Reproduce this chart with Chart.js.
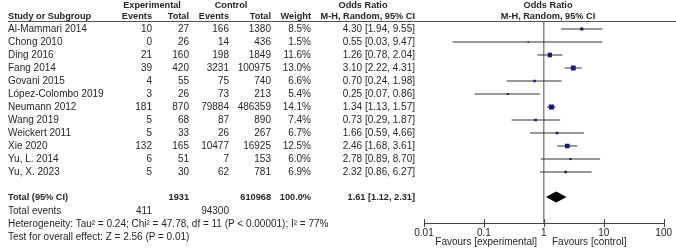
<!DOCTYPE html>
<html>
<head>
<meta charset="utf-8">
<script src="https://cdn.jsdelivr.net/npm/chart.js@4/dist/chart.umd.min.js"></script>
<style>
  html, body { margin: 0; padding: 0; background: #fff; }
  #wrap { position: relative; width: 676px; height: 249px; overflow: hidden; background: #fff;
          font-family: "Liberation Sans", Arial, sans-serif; font-size: 10px; color: #262626; }
  #wrap canvas { position: absolute; left: 0; top: 0; }
  .t { position: absolute; white-space: nowrap; line-height: 12px; height: 12px; }
  .b { font-weight: bold; font-size: 9.2px; }
  #rule { position: absolute; left: 8px; right: 0; top: 21px; height: 0; border-top: 1px solid #555; }
</style>
</head>
<body>
<div id="wrap">
  <canvas id="c" width="676" height="249"></canvas>
  <div id="rule"></div>
</div>
<script>
// ---------- data ----------
const studies = ['Al-Mammari 2014','Chong 2010','Ding 2016','Fang 2014','Govani 2015','López-Colombo 2019',
                 'Neumann 2012','Wang 2019','Weickert 2011','Xie 2020','Yu, L. 2014','Yu, X. 2023'];
const expEvents  = [10, 0, 21, 39, 4, 3, 181, 5, 5, 132, 6, 5];
const expTotal   = [27, 26, 160, 420, 55, 26, 870, 68, 33, 165, 51, 30];
const ctrlEvents = [166, 14, 198, 3231, 75, 73, 79884, 87, 26, 10477, 7, 62];
const ctrlTotal  = [1380, 436, 1849, 100975, 740, 213, 486359, 890, 267, 16925, 153, 781];
const weights    = [8.5, 1.5, 11.6, 13.0, 6.6, 5.4, 14.1, 7.4, 6.7, 12.5, 6.0, 6.9];
const orEst      = [4.30, 0.55, 1.26, 3.10, 0.70, 0.25, 1.34, 0.73, 1.66, 2.46, 2.78, 2.32];
const orLow      = [1.94, 0.03, 0.78, 2.22, 0.24, 0.07, 1.13, 0.29, 0.59, 1.68, 0.89, 0.86];
const orHigh     = [9.55, 9.47, 2.04, 4.31, 1.98, 0.86, 1.57, 1.87, 4.66, 3.61, 8.70, 6.27];
const pooled     = [1.61, 1.12, 2.31];           // estimate, lower, upper
const totals     = [1931, 610968];               // experimental total, control total
const totalEvents = [411, 94300];
const xTickValues = [0.01, 0.1, 1, 10, 100];
const xTickLabels = ['0.01', '0.1', '1', '10', '100'];
const heterogeneity = 'Heterogeneity: Tau² = 0.24; Chi² = 47.78, df = 11 (P < 0.00001); I² = 77%';
const overallTest = 'Test for overall effect: Z = 2.56 (P = 0.01)';

// ---------- layout constants ----------
const ROW0 = 29, ROWH = 13, TOTAL_Y = 197, TOP = 22, BOTTOM = 223;
const colStudy = 8, colEE = 152, colET = 189, colCE = 229, colCT = 271, colW = 311, colOR = 415;
const W = 676;
const wrap = document.getElementById('wrap');
function txt(s, x, y, align, bold) {
  const d = document.createElement('div');
  d.className = 't' + (bold ? ' b' : '');
  d.textContent = s;
  d.style.top = (y - 6) + 'px';
  if (align === 'right') d.style.right = (W - x) + 'px';
  else if (align === 'center') { d.style.left = x + 'px'; d.style.transform = 'translateX(-50%)'; }
  else d.style.left = x + 'px';
  wrap.appendChild(d);
}
const f2 = v => v.toFixed(2);
// headers
txt('Experimental', 152, 5, 'center', true);
txt('Control', 231, 5, 'center', true);
txt('Odds Ratio', 363, 5, 'center', true);
txt('Odds Ratio', 548, 5, 'center', true);
txt('Study or Subgroup', colStudy, 16, 'left', true);
txt('Events', colEE, 16, 'right', true);
txt('Total', colET, 16, 'right', true);
txt('Events', colCE, 16, 'right', true);
txt('Total', colCT, 16, 'right', true);
txt('Weight', colW, 16, 'right', true);
txt('M-H, Random, 95% CI', colOR, 16, 'right', true);
txt('M-H, Random, 95% CI', 548, 16, 'center', true);
// rows
studies.forEach((s, i) => {
  const y = ROW0 + ROWH * i;
  txt(s, colStudy, y, 'left');
  txt(String(expEvents[i]), colEE, y, 'right');
  txt(String(expTotal[i]), colET, y, 'right');
  txt(String(ctrlEvents[i]), colCE, y, 'right');
  txt(String(ctrlTotal[i]), colCT, y, 'right');
  txt(weights[i].toFixed(1) + '%', colW, y, 'right');
  txt(f2(orEst[i]) + ' [' + f2(orLow[i]) + ', ' + f2(orHigh[i]) + ']', colOR, y, 'right');
});
// totals
txt('Total (95% CI)', colStudy, TOTAL_Y, 'left', true);
txt(String(totals[0]), colET, TOTAL_Y, 'right', true);
txt(String(totals[1]), colCT, TOTAL_Y, 'right', true);
txt('100.0%', colW, TOTAL_Y, 'right', true);
txt(f2(pooled[0]) + ' [' + f2(pooled[1]) + ', ' + f2(pooled[2]) + ']', colOR, TOTAL_Y, 'right', true);
txt('Total events', colStudy, 211, 'left');
txt(String(totalEvents[0]), colEE, 211, 'right');
txt(String(totalEvents[1]), colCE, 211, 'right');
txt(heterogeneity, colStudy, 224, 'left');
txt(overallTest, colStudy, 237, 'left');
txt('Favours [experimental]', 537, 242, 'right');
txt('Favours [control]', 552, 242, 'left');

// ---------- chart ----------
const yOf = px => (px - ROW0) / ROWH;
const totalRowY = yOf(TOTAL_Y);
const diamondHalf = 5 / ROWH;

const ciSets = studies.map((s, i) => ({
  type: 'scatter', showLine: true, data: [{x: orLow[i], y: i}, {x: orHigh[i], y: i}],
  borderColor: '#333', borderWidth: 1, pointRadius: 0, fill: false, order: 3
}));
const markerSet = {
  type: 'scatter', data: orEst.map((v, i) => ({x: v, y: i})),
  pointStyle: 'rect',
  pointRadius: weights.map(w => Math.max(1, 0.26 * w)),
  backgroundColor: '#14148c', borderColor: '#14148c', borderWidth: 0, order: 1
};
const diamondSet = {
  type: 'line',
  data: [
    {x: pooled[1], y: totalRowY}, {x: pooled[0], y: totalRowY - diamondHalf},
    {x: pooled[2], y: totalRowY}, {x: pooled[0], y: totalRowY + diamondHalf},
    {x: pooled[1], y: totalRowY}
  ],
  borderColor: '#000', borderWidth: 1, backgroundColor: '#000', pointRadius: 0,
  fill: 'shape', tension: 0, order: 0
};

const tickMarks = {
  id: 'tickMarks',
  afterDraw(chart) {
    const xs = chart.scales.x, ctx = chart.ctx, yb = chart.chartArea.bottom;
    ctx.save();
    ctx.strokeStyle = '#444'; ctx.lineWidth = 1;
    xTickValues.forEach(v => {
      const px = Math.round(xs.getPixelForValue(v)) + 0.5;
      ctx.beginPath(); ctx.moveTo(px, yb - 4); ctx.lineTo(px, yb + 4); ctx.stroke();
    });
    ctx.restore();
  }
};

new Chart(document.getElementById('c'), {
  type: 'scatter',
  data: { datasets: [diamondSet, markerSet, ...ciSets] },
  options: {
    responsive: false, animation: false, devicePixelRatio: 1,
    layout: { padding: { left: 424, right: 9, top: TOP, bottom: 0 } },
    plugins: { legend: { display: false }, tooltip: { enabled: false } },
    scales: {
      x: {
        type: 'logarithmic', min: 0.01, max: 100,
        afterBuildTicks: s => { s.ticks = xTickValues.map(v => ({ value: v })); },
        afterFit: s => { s.height = 249 - BOTTOM; },
        ticks: {
          autoSkip: false, maxRotation: 0, padding: 4, color: '#262626',
          font: { family: '"Liberation Sans", Arial, sans-serif', size: 10 },
          callback: (v, i) => xTickLabels[i]
        },
        grid: {
          drawTicks: false,
          color: c => (c.tick && c.tick.value === 1) ? '#8a8a8a' : 'rgba(0,0,0,0)',
          lineWidth: c => (c.tick && c.tick.value === 1) ? 1.5 : 0
        },
        border: { display: true, color: '#444', width: 1 }
      },
      y: {
        display: false, reverse: true,
        min: yOf(TOP), max: yOf(BOTTOM)
      }
    }
  },
  plugins: [tickMarks]
});
</script>
</body>
</html>
